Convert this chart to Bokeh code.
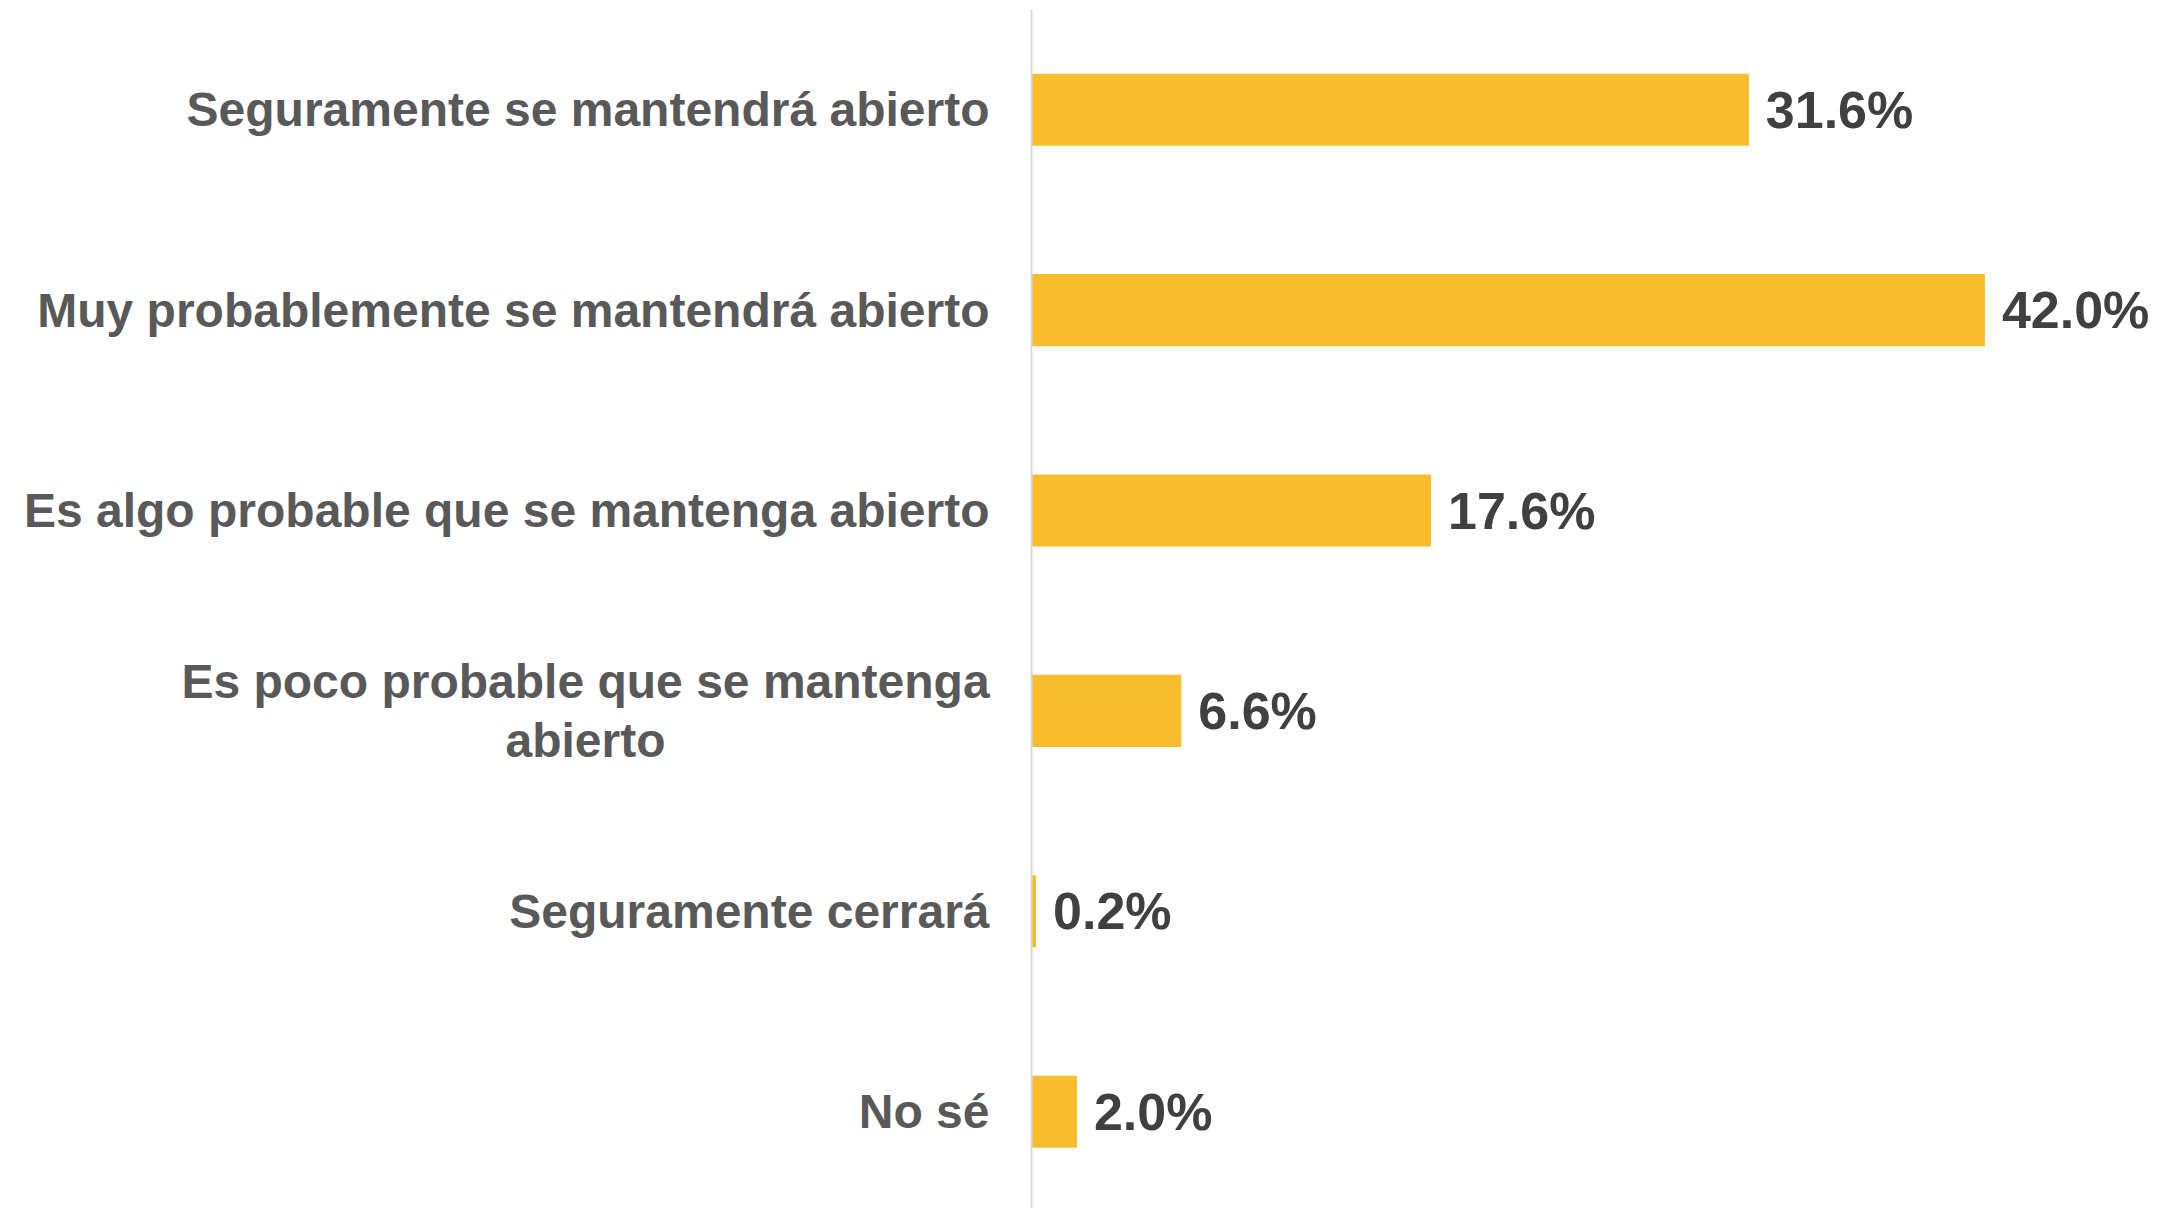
from bokeh.plotting import figure
from bokeh.models import ColumnDataSource, Range1d, Span
from bokeh.core.properties import value
from bokeh.embed import file_html
from bokeh.resources import INLINE

categories = [
    "Seguramente se mantendrá abierto",
    "Muy probablemente se mantendrá abierto",
    "Es algo probable que se mantenga abierto",
    "Es poco probable que se mantenga\nabierto",
    "Seguramente cerrará",
    "No sé",
]
values = [31.6, 42.0, 17.6, 6.6, 0.2, 2.0]
value_labels = ["31.6%", "42.0%", "17.6%", "6.6%", "0.2%", "2.0%"]

W, H = 2159, 1208
PX_PER_UNIT = 22.7
AXIS_X = 1031  # pixel position of the zero line inside the figure

ypos = list(range(len(categories)))
single = [i for i, c in enumerate(categories) if "\n" not in c]
multi = [i for i, c in enumerate(categories) if "\n" in c]

src = ColumnDataSource(dict(y=ypos, v=values, lab=value_labels, cat=categories))
src_single = ColumnDataSource(dict(y=[ypos[i] for i in single], cat=[categories[i] for i in single]))
src_multi = ColumnDataSource(dict(y=[ypos[i] for i in multi], cat=[categories[i] for i in multi]))

p = figure(
    width=W, height=H,
    x_range=Range1d(-AXIS_X / PX_PER_UNIT, (W - AXIS_X) / PX_PER_UNIT),
    y_range=Range1d(5.483, -0.5),
    output_backend="svg", toolbar_location=None,
    min_border_left=0, min_border_right=0, min_border_top=9, min_border_bottom=0,
)
p.axis.visible = False
p.grid.visible = False
p.outline_line_color = None
p.background_fill_color = "white"
p.border_fill_color = "white"

p.add_layout(Span(location=0, dimension="height", line_color="#D9D9D9", line_width=2))

p.hbar(y="y", left=0, right="v", height=0.36, source=src,
       fill_color="#F9BC2A", line_color=None)

p.text(x="v", y="y", text="lab", source=src, x_offset=17,
       text_font=value("Liberation Sans"), text_font_style="bold",
       text_font_size="52px", text_color="#404040",
       text_align="left", text_baseline="middle")

p.text(x=0, y="y", text="cat", source=src_single, x_offset=-42,
       text_font=value("Liberation Sans"), text_font_style="bold",
       text_font_size="48px", text_color="#595959",
       text_align="right", text_baseline="middle")

p.text(x=0, y="y", text="cat", source=src_multi, x_offset=-446,
       text_font=value("Liberation Sans"), text_font_style="bold",
       text_font_size="48px", text_color="#595959", text_line_height=1.1,
       text_align="center", text_baseline="middle")

open("out.html", "w").write(file_html(p, INLINE))
